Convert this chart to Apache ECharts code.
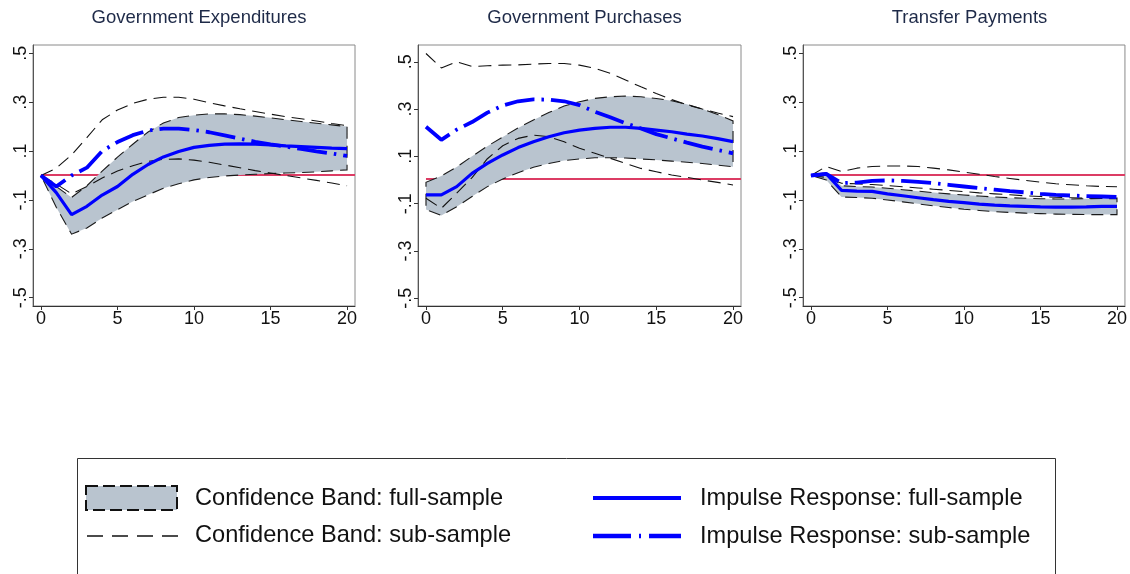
<!DOCTYPE html>
<html>
<head>
<meta charset="utf-8">
<script src="https://cdn.jsdelivr.net/npm/echarts@6/dist/echarts.min.js"></script>
<style>
  html, body { margin: 0; padding: 0; background: #ffffff; }
  #chart { width: 1130px; height: 574px; }
</style>
</head>
<body>
<div id="chart"></div>
<script>
// ---------- data ----------
const horizon = [0, 1, 2, 3, 4, 5, 6, 7, 8, 9, 10, 11, 12, 13, 14, 15, 16, 17, 18, 19, 20];
const panelTitles = ['Government Expenditures', 'Government Purchases', 'Transfer Payments'];
const xTickValues = [0, 5, 10, 15, 20];
const yTickValues = [-0.5, -0.3, -0.1, 0.1, 0.3, 0.5];
const legendLabels = ['Confidence Band: full-sample', 'Confidence Band: sub-sample',
                      'Impulse Response: full-sample', 'Impulse Response: sub-sample'];

// Government Expenditures
const geIrfFull  = [0, -0.07, -0.16, -0.126, -0.08, -0.045, 0.005, 0.045, 0.076, 0.098, 0.115, 0.123, 0.128, 0.129, 0.128, 0.125, 0.121, 0.118, 0.115, 0.112, 0.11];
const geIrfSub   = [0, -0.045, 0.0, 0.032, 0.1, 0.137, 0.165, 0.184, 0.192, 0.192, 0.186, 0.177, 0.164, 0.151, 0.138, 0.127, 0.118, 0.109, 0.099, 0.09, 0.08];
const geFullHi   = [0, -0.045, -0.09, -0.042, 0.018, 0.075, 0.128, 0.178, 0.215, 0.237, 0.247, 0.252, 0.252, 0.249, 0.243, 0.236, 0.228, 0.221, 0.214, 0.207, 0.2];
const geFullLo   = [0, -0.13, -0.24, -0.215, -0.174, -0.14, -0.106, -0.079, -0.052, -0.034, -0.018, -0.008, -0.002, 0.002, 0.005, 0.008, 0.01, 0.012, 0.015, 0.019, 0.023];
const geSubHi    = [0, 0.03, 0.084, 0.155, 0.228, 0.268, 0.295, 0.312, 0.32, 0.32, 0.312, 0.298, 0.285, 0.273, 0.262, 0.251, 0.241, 0.232, 0.223, 0.213, 0.204];
const geSubLo    = [0, -0.035, -0.075, -0.045, -0.01, 0.018, 0.04, 0.058, 0.066, 0.068, 0.063, 0.054, 0.043, 0.032, 0.02, 0.01, 0.0, -0.01, -0.02, -0.031, -0.042];

// Government Purchases
const gpIrfFull  = [-0.063, -0.063, -0.028, 0.028, 0.07, 0.106, 0.137, 0.162, 0.183, 0.2, 0.211, 0.218, 0.223, 0.223, 0.218, 0.211, 0.204, 0.194, 0.186, 0.175, 0.162];
const gpIrfSub   = [0.225, 0.17, 0.213, 0.245, 0.285, 0.315, 0.333, 0.341, 0.34, 0.333, 0.317, 0.289, 0.265, 0.24, 0.218, 0.194, 0.176, 0.158, 0.141, 0.127, 0.113];
const gpFullHi   = [-0.01, 0.017, 0.055, 0.1, 0.143, 0.182, 0.22, 0.254, 0.285, 0.313, 0.331, 0.345, 0.352, 0.355, 0.352, 0.345, 0.335, 0.32, 0.3, 0.277, 0.25];
const gpFullLo   = [-0.125, -0.15, -0.113, -0.07, -0.028, 0.004, 0.031, 0.054, 0.07, 0.082, 0.089, 0.094, 0.094, 0.093, 0.089, 0.085, 0.08, 0.075, 0.07, 0.063, 0.056];
const gpSubHi    = [0.535, 0.474, 0.5, 0.48, 0.483, 0.486, 0.487, 0.49, 0.493, 0.493, 0.486, 0.472, 0.451, 0.423, 0.394, 0.366, 0.34, 0.318, 0.3, 0.283, 0.268];
const gpSubLo    = [-0.077, -0.12, -0.056, 0.01, 0.09, 0.145, 0.176, 0.19, 0.183, 0.162, 0.134, 0.113, 0.092, 0.07, 0.049, 0.035, 0.021, 0.011, 0.0, -0.01, -0.021];

// Transfer Payments
const tpIrfFull  = [0, 0.007, -0.061, -0.064, -0.065, -0.075, -0.083, -0.091, -0.099, -0.106, -0.111, -0.117, -0.121, -0.124, -0.126, -0.128, -0.129, -0.129, -0.128, -0.126, -0.126];
const tpIrfSub   = [0, 0.007, -0.031, -0.029, -0.022, -0.02, -0.022, -0.026, -0.031, -0.038, -0.045, -0.052, -0.058, -0.064, -0.069, -0.075, -0.079, -0.082, -0.084, -0.086, -0.088];
const tpFullHi   = [0, 0.012, -0.042, -0.045, -0.047, -0.052, -0.058, -0.064, -0.07, -0.075, -0.08, -0.084, -0.088, -0.091, -0.093, -0.095, -0.096, -0.096, -0.095, -0.094, -0.092];
const tpFullLo   = [0, -0.018, -0.088, -0.09, -0.093, -0.1, -0.108, -0.116, -0.124, -0.131, -0.138, -0.143, -0.148, -0.151, -0.154, -0.156, -0.158, -0.159, -0.16, -0.16, -0.16];
const tpSubHi    = [0, 0.037, 0.016, 0.03, 0.037, 0.039, 0.039, 0.037, 0.03, 0.023, 0.014, 0.005, -0.004, -0.012, -0.02, -0.027, -0.034, -0.038, -0.042, -0.045, -0.046];
const tpSubLo    = [0, -0.008, -0.032, -0.034, -0.037, -0.041, -0.046, -0.051, -0.056, -0.061, -0.066, -0.071, -0.075, -0.079, -0.083, -0.086, -0.089, -0.091, -0.093, -0.094, -0.095];

const zeroLevel = 0;

// ---------- styles / layout ----------
const FONT = 'Liberation Sans, Arial, Helvetica, sans-serif';
const BLUE = '#0000ff';
const BAND = '#b9c4cf';
const RED = '#dc3c64';
const X_MIN = -0.52, X_MAX = 20.52;
const gridBoxes = [
  { left: 33,  top: 45, width: 322, height: 261 },
  { left: 418, top: 45, width: 323, height: 261 },
  { left: 803, top: 45, width: 323, height: 261 }
];
const yRanges = [[-0.534, 0.534], [-0.533, 0.571], [-0.534, 0.534]];

const panels = [
  { irfFull: geIrfFull, irfSub: geIrfSub, hi: geFullHi, lo: geFullLo, subHi: geSubHi, subLo: geSubLo },
  { irfFull: gpIrfFull, irfSub: gpIrfSub, hi: gpFullHi, lo: gpFullLo, subHi: gpSubHi, subLo: gpSubLo },
  { irfFull: tpIrfFull, irfSub: tpIrfSub, hi: tpFullHi, lo: tpFullLo, subHi: tpSubHi, subLo: tpSubLo }
];

const fmtY = v => (Math.round(v * 10) / 10).toFixed(1).replace(/^(-?)0\./, '$1.');
const pairs = arr => horizon.map((h, i) => [h, arr[i]]);

const grids = [], xAxes = [], yAxes = [], series = [], titles = [];
panels.forEach((p, gi) => {
  const g = gridBoxes[gi];
  grids.push({ left: g.left, top: g.top, width: g.width, height: g.height,
               show: true, borderColor: '#8a8a8a', borderWidth: 1, backgroundColor: 'transparent' });
  titles.push({ text: panelTitles[gi], left: g.left + g.width / 2, top: 3, textAlign: 'center',
                textStyle: { fontFamily: FONT, fontSize: 18.5, fontWeight: 'normal', color: '#1e2a48' } });
  xAxes.push({
    type: 'value', gridIndex: gi, min: X_MIN, max: X_MAX,
    axisLine: { show: true, onZero: false, lineStyle: { color: '#333', width: 1 } },
    axisTick: { show: true, customValues: xTickValues, length: 4, lineStyle: { color: '#333' } },
    axisLabel: { customValues: xTickValues, margin: 4, fontFamily: FONT, fontSize: 18, color: '#111' },
    splitLine: { show: false }
  });
  yAxes.push({
    type: 'value', gridIndex: gi, min: yRanges[gi][0], max: yRanges[gi][1],
    axisLine: { show: true, onZero: false, lineStyle: { color: '#555', width: 1 } },
    axisTick: { show: true, customValues: yTickValues, length: 4, lineStyle: { color: '#333' } },
    axisLabel: { customValues: yTickValues, rotate: 90, margin: 3, fontFamily: FONT, fontSize: 18,
                 color: '#111', formatter: fmtY },
    splitLine: { show: false }
  });

  // zero reference line: a thin strip placed through the axes' scales, snapped to whole pixel rows
  series.push({
    type: 'custom', xAxisIndex: gi, yAxisIndex: gi, silent: true, animation: false, z: 1,
    data: [[horizon[0], zeroLevel]],
    renderItem: (params, api) => {
      const a = api.coord([horizon[0], zeroLevel]);
      const b = api.coord([X_MAX, zeroLevel]);
      const y0 = Math.floor(a[1] / 2) * 2;
      return { type: 'rect', shape: { x: a[0], y: y0, width: b[0] - a[0], height: 2 },
               style: { fill: RED } };
    }
  });
  // full-sample confidence band (filled polygon with dashed outline)
  series.push({
    type: 'custom', xAxisIndex: gi, yAxisIndex: gi, silent: true, animation: false, z: 2,
    data: [[horizon[0], p.hi[0]]],
    renderItem: (params, api) => {
      const pts = [];
      horizon.forEach((h, i) => pts.push(api.coord([h, p.hi[i]])));
      for (let i = horizon.length - 1; i >= 0; i--) pts.push(api.coord([horizon[i], p.lo[i]]));
      return { type: 'polygon', shape: { points: pts },
               style: { fill: BAND, stroke: '#1a1a1a', lineWidth: 1.1, lineDash: [12, 7] } };
    }
  });
  // sub-sample confidence band
  [p.subHi, p.subLo].forEach(arr => {
    series.push({
      type: 'line', xAxisIndex: gi, yAxisIndex: gi, silent: true, symbol: 'none', animation: false, z: 3,
      data: pairs(arr), lineStyle: { color: '#111', width: 1.1, type: [13, 7] }
    });
  });
  // impulse responses
  series.push({
    type: 'line', xAxisIndex: gi, yAxisIndex: gi, silent: true, symbol: 'none', animation: false, z: 4,
    data: pairs(p.irfFull), lineStyle: { color: BLUE, width: 3.2 }
  });
  series.push({
    type: 'line', xAxisIndex: gi, yAxisIndex: gi, silent: true, symbol: 'none', animation: false, z: 4,
    data: pairs(p.irfSub), lineStyle: { color: BLUE, width: 3.8, type: [30, 7, 2.5, 7], cap: 'butt' }
  });
});

// ---------- legend (drawn as graphics) ----------
const LEG_TXT = { fontFamily: FONT, fontSize: 23.6, fill: '#111', textVerticalAlign: 'middle' };
const graphic = [
  { type: 'rect', shape: { x: 77.5, y: 458.5, width: 978, height: 160 },
    style: { fill: 'none', stroke: '#333', lineWidth: 1 } },
  { type: 'rect', shape: { x: 86, y: 486, width: 91, height: 24 },
    style: { fill: BAND, stroke: '#111', lineWidth: 2, lineDash: [12, 5] } },
  { type: 'text', x: 195, y: 498, style: Object.assign({ text: legendLabels[0] }, LEG_TXT) },
  { type: 'line', shape: { x1: 87, y1: 536, x2: 178, y2: 536 },
    style: { stroke: '#111', lineWidth: 1.6, lineDash: [16, 9] } },
  { type: 'text', x: 195, y: 535, style: Object.assign({ text: legendLabels[1] }, LEG_TXT) },
  { type: 'line', shape: { x1: 593, y1: 498, x2: 681, y2: 498 },
    style: { stroke: BLUE, lineWidth: 4 } },
  { type: 'text', x: 700, y: 498, style: Object.assign({ text: legendLabels[2] }, LEG_TXT) },
  { type: 'line', shape: { x1: 593, y1: 536, x2: 681, y2: 536 },
    style: { stroke: BLUE, lineWidth: 4.5, lineDash: [38, 8, 2, 8], lineCap: 'butt' } },
  { type: 'text', x: 700, y: 536, style: Object.assign({ text: legendLabels[3] }, LEG_TXT) }
];

const chart = echarts.init(document.getElementById('chart'), null, { renderer: 'canvas' });
chart.setOption({
  backgroundColor: '#ffffff',
  animation: false,
  title: titles,
  grid: grids,
  xAxis: xAxes,
  yAxis: yAxes,
  series: series,
  graphic: graphic
});
</script>
</body>
</html>
